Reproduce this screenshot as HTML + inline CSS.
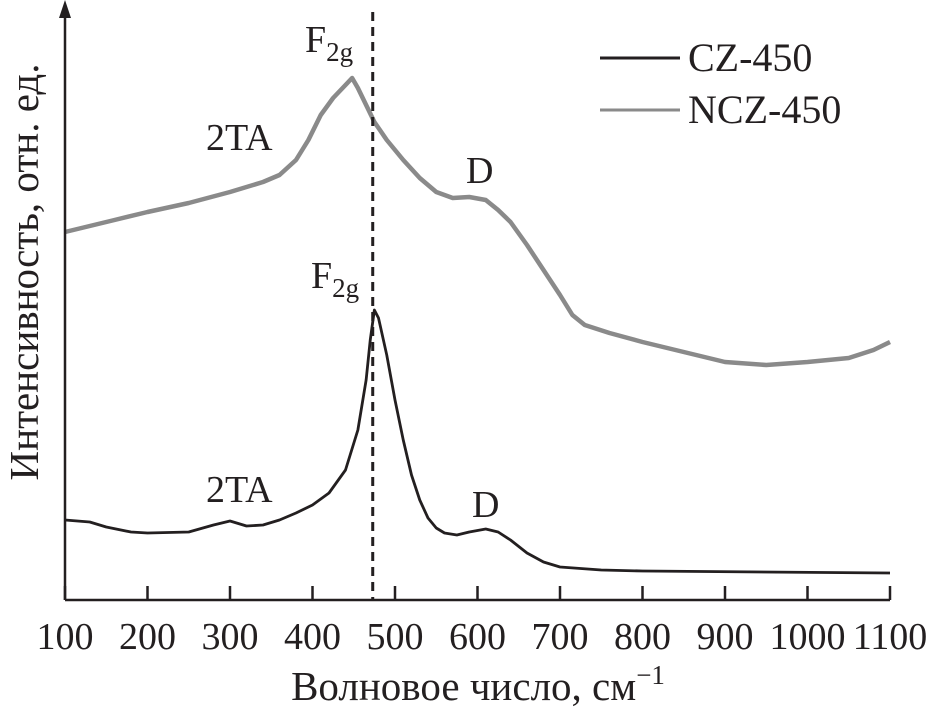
<!DOCTYPE html>
<html><head><meta charset="utf-8"><style>
body{margin:0;background:#fff}
svg text{font-family:"Liberation Serif",serif;fill:#231f20}
</style></head><body>
<svg width="929" height="709" viewBox="0 0 929 709">
<g id="plot"></g>
<line x1="65" y1="600" x2="890" y2="600" stroke="#231f20" stroke-width="2.5"/>
<line x1="65" y1="600" x2="65" y2="12" stroke="#231f20" stroke-width="2.5"/>
<polygon points="65,0 59,18 71,18" fill="#231f20"/>
<g id="ticks"></g>
<text x="478" y="700" font-size="41" text-anchor="middle">Волновое число, см<tspan dy="-16" font-size="27">−1</tspan></text>
<text transform="translate(38,272) rotate(-90)" font-size="41" text-anchor="middle">Интенсивность, отн. ед.</text>
<line x1="600" y1="58" x2="680" y2="58" stroke="#231f20" stroke-width="3"/>
<text x="688" y="71" font-size="40">CZ-450</text>
<line x1="600" y1="110" x2="680" y2="110" stroke="#8a8a8a" stroke-width="3"/>
<text x="688" y="123" font-size="40">NCZ-450</text>
<text x="305" y="52" font-size="38">F<tspan dy="9" font-size="27">2g</tspan></text>
<text x="206" y="150" font-size="38">2TA</text>
<text x="466" y="183" font-size="38">D</text>
<text x="311" y="288" font-size="38">F<tspan dy="9" font-size="27">2g</tspan></text>
<text x="206" y="502" font-size="38">2TA</text>
<text x="472" y="517" font-size="38">D</text>
</svg>
<script>
const xTicks=[100,200,300,400,500,600,700,800,900,1000,1100];
const nczX=[100,130,160,200,250,300,340,360,380,395,410,425,440,448,455,465,475,490,510,530,550,570,590,610,625,640,660,680,700,715,730,760,800,850,900,950,1000,1050,1080,1100];
const nczY=[368,374,380,388,397,408,418,425,440,460,485,502,515,522,512,495,478,460,440,422,408,402,403,400,390,378,355,330,305,285,275,267,258,248,238,235,238,242,250,258];
const czX=[100,130,150,180,200,250,280,300,320,340,360,380,400,420,440,455,465,470,475,480,490,500,510,520,530,540,550,560,575,590,610,625,640,660,680,700,750,800,1100];
const czY=[80,78,73,68,67,68,75,79,74,75,80,87,95,107,130,170,220,260,290,282,245,200,160,125,100,82,72,67,65,68,71,68,60,47,38,33,30,29,27];
const peakX=473;
const NS="http://www.w3.org/2000/svg";
const sx=v=>65+(v-100)*0.825;
const sy=v=>600-v;
const plot=document.getElementById('plot');
function line(xs,ys,color,name){
  const p=document.createElementNS(NS,'polyline');
  p.setAttribute('points',xs.map((x,i)=>sx(x)+','+sy(ys[i])).join(' '));
  p.setAttribute('fill','none');p.setAttribute('stroke',color);
  p.setAttribute('stroke-width',name==='ncz-450-series'?4.5:2.8);
  p.setAttribute('stroke-linejoin','round');
  
  
  plot.appendChild(p);
}
line(nczX,nczY,'#8a8a8a','ncz-450-series');
line(czX,czY,'#231f20','cz-450-series');
const d=document.createElementNS(NS,'line');
d.setAttribute('x1',sx(peakX));d.setAttribute('x2',sx(peakX));
d.setAttribute('y1',12);d.setAttribute('y2',600);
d.setAttribute('stroke','#231f20');d.setAttribute('stroke-width',3);d.setAttribute('stroke-dasharray','9,6');


plot.appendChild(d);
const tg=document.getElementById('ticks');
xTicks.forEach(t=>{
  const l=document.createElementNS(NS,'line');
  l.setAttribute('x1',sx(t));l.setAttribute('x2',sx(t));l.setAttribute('y1',600);l.setAttribute('y2',586);
  l.setAttribute('stroke','#231f20');l.setAttribute('stroke-width',2.5);
  
  
  tg.appendChild(l);
  const tx=document.createElementNS(NS,'text');
  tx.setAttribute('x',sx(t));tx.setAttribute('y',649);tx.setAttribute('font-size','38');tx.setAttribute('text-anchor','middle');
  tx.textContent=t;
  
  
  tg.appendChild(tx);
});
</script>
</body></html>
